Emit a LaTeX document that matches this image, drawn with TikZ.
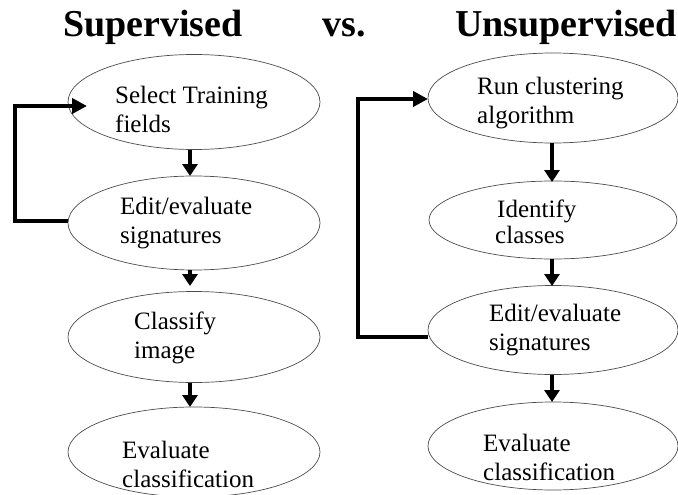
\documentclass[tikz,border=0pt]{standalone}
\usepackage{fontspec}
\setmainfont{Liberation Serif}
\usetikzlibrary{arrows.meta,shapes.geometric}
\begin{document}
\begin{tikzpicture}[x=1pt,y=-1pt,
  oval/.style={draw=black!70,line width=0.7pt,ellipse,inner sep=0pt},
  lbl/.style={anchor=base west,inner sep=0pt,align=left,font=\fontsize{25}{29}\selectfont},
  ttl/.style={anchor=base,inner sep=0pt,font=\fontsize{38}{40}\selectfont\bfseries},
  flow/.style={line width=3.5pt,-{Triangle[width=15pt,length=12pt]}},
  loop/.style={line width=4pt,-{Triangle[width=15pt,length=15pt]}}]
\useasboundingbox (0,0) rectangle (678,495);
% titles
\node[ttl] (tS) at (153,37) {Supervised};
\node[ttl] (tV) at (344,37) {vs.};
\node[ttl] (tU) at (566,37) {Unsupervised};
% left ellipses
\node[oval,minimum width=252pt,minimum height=95pt] (L1) at (194,102) {};
\node[oval,minimum width=252pt,minimum height=94pt] (L2) at (194,223) {};
\node[oval,minimum width=252pt,minimum height=91pt] (L3) at (194,337) {};
\node[oval,minimum width=252pt,minimum height=90pt] (L4) at (194,452) {};
% labels (anchored at the baseline of their last line)
\node[lbl] (l1) at (115,132) {Select Training\\fields};
\node[lbl] (l2) at (120,243) {Edit/evaluate\\signatures};
\node[lbl] (l3) at (134,358) {Classify\\image};
\node[lbl] (l4) at (122,487) {Evaluate\\classification};
% right ellipses
\node[oval,minimum width=250pt,minimum height=90pt] (R1) at (553,98) {};
\node[oval,minimum width=248pt,minimum height=78pt] (R2) at (553,220) {};
\node[oval,minimum width=250pt,minimum height=89pt] (R3) at (553,330) {};
\node[oval,minimum width=250pt,minimum height=88pt] (R4) at (553,446) {};
\node[lbl] (r1) at (477,124) {Run clustering\\algorithm};
\node[lbl] (r2) at (497,217) {Identify};
\node[lbl] (r2b) at (495,243) {classes};
\node[lbl] (r3) at (489,350) {Edit/evaluate\\signatures};
\node[lbl] (r4) at (483,480) {Evaluate\\classification};
% left flow arrows
\draw[flow] (190,150) coordinate (a1) -- (190,176) coordinate (b1);
\draw[flow] (L2.south -| a1) -- (190,286);
\draw[flow] (L3.south -| a1) -- (190,407);
% right flow arrows
\draw[flow] (552,143) -- (552,182);
\draw[flow] (552,259) -- (552,286);
\draw[flow] (552,375) -- (552,402);
% loops
\coordinate (lt) at (87,106);
\coordinate (lc) at (15,221);
\draw[loop] (L2.west |- lc) -- (lc) |- (lt);
\coordinate (rc) at (358,337);
\coordinate (rt) at (428,99);
\draw[loop] (R3.west |- rc) -- (rc) |- (rt);
\end{tikzpicture}
\end{document}
